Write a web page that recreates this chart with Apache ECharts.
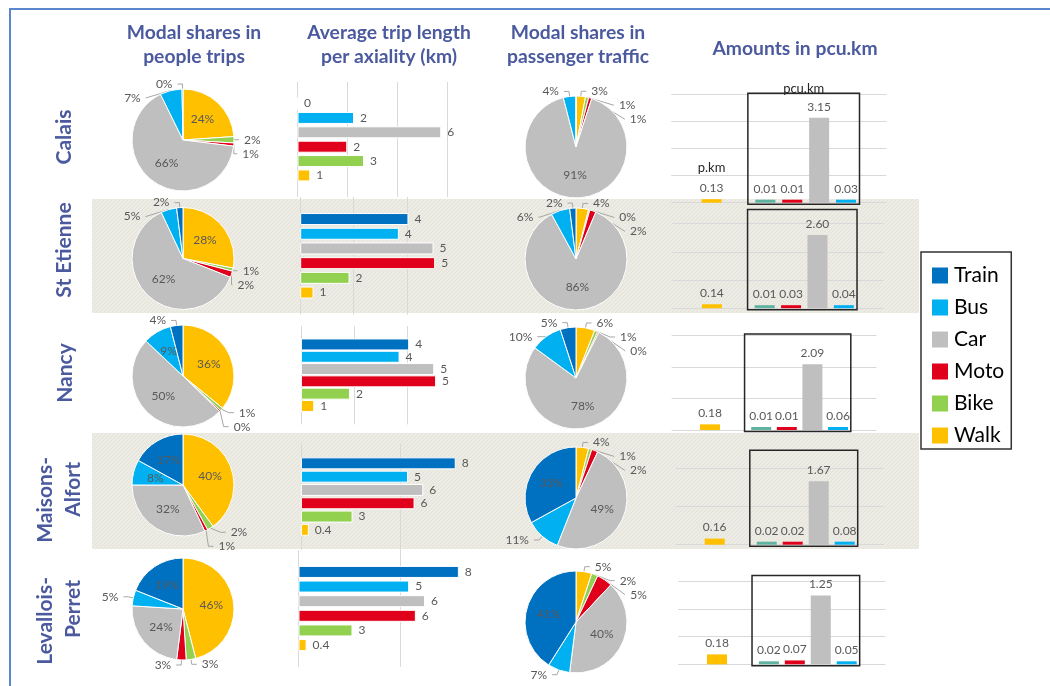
<!DOCTYPE html>
<html><head><meta charset="utf-8">
<script src="https://cdn.jsdelivr.net/npm/echarts@6/dist/echarts.min.js"></script>
<style>html,body{margin:0;padding:0;background:#fff}#c{width:1050px;height:686px}</style>
</head><body><div id="c"></div>
<script>
// ---------- DATA ----------
const modes = ['Train', 'Bus', 'Car', 'Moto', 'Bike', 'Walk'];
const modeColors = ['#0070c0', '#00b0f0', '#bfbfbf', '#e0001b', '#92d050', '#ffc000'];
const cities = ['Calais', 'St Etienne', 'Nancy', 'Maisons-\nAlfort', 'Levallois-\nPerret'];
const colTitles = ['Modal shares in\npeople trips', 'Average trip length\nper axiality (km)', 'Modal shares in\npassenger traffic', 'Amounts in pcu.km'];
const pieOrder = ['Walk', 'Bike', 'Moto', 'Car', 'Bus', 'Train'];
// Modal shares in people trips (%), pieOrder
const tripShares = [
  [24, 2, 1, 66, 7, 0.3],
  [28, 1, 2, 62, 5, 2],
  [36, 1, 0.4, 50, 9, 4],
  [40, 2, 1, 32, 8, 17],
  [46, 3, 3, 24, 5, 19]
];
// Modal shares in passenger traffic (%), pieOrder
const trafficShares = [
  [3, 1, 1, 91, 4, 0],
  [4, 0.4, 2, 86, 6, 2],
  [6, 1, 0.4, 78, 10, 5],
  [4, 1, 2, 49, 11, 33],
  [5, 2, 5, 40, 7, 41]
];
// Average trip length (km), modes order
const tripLength = [
  [0, 2.26, 5.75, 1.99, 2.66, 0.51],
  [4.06, 3.7, 5.0, 5.06, 1.85, 0.5],
  [4.06, 3.7, 5.0, 5.07, 1.84, 0.5],
  [7.82, 5.41, 6.18, 5.74, 2.61, 0.4],
  [7.9, 5.45, 6.23, 5.78, 2.66, 0.4]
];
// Amounts (p.km for Walk, pcu.km for the others)
const amountCats = ['a0', 'Walk', 'a2', 'Train', 'Moto', 'Car', 'Bus', 'a7'];
const amountColors = [null, '#ffc000', null, '#5fb3a0', '#e0001b', '#bfbfbf', '#00b0f0', null];
const amounts = [
  [null, 0.13, null, 0.01, 0.01, 3.15, 0.03, null],
  [null, 0.14, null, 0.01, 0.03, 2.60, 0.04, null],
  [null, 0.18, null, 0.01, 0.01, 2.09, 0.06, null],
  [null, 0.16, null, 0.02, 0.02, 1.67, 0.08, null],
  [null, 0.18, null, 0.02, 0.07, 1.25, 0.05, null]
];
const lenCats = ['l0', ...modes, 'l7'];

// ---------- LAYOUT ----------
const FONT = 'Lato';
const TITLE_COLOR = '#4b5a9e';
const LABEL_COLOR = '#595959';
const pie1X = 183, pie3X = 576, pieR = 51;
const pie1Y = [140, 258.5, 376, 485, 609];
const pie3Y = [147, 259, 378, 498, 622];
const lenLayout = [
  {left: 297.5, top: 82, height: 115, width: 150, max: 6, interval: 2, hideLast: false},
  {left: 300.2, top: 197, height: 117.6, width: 160, max: 6, interval: 2, hideLast: true},
  {left: 300.9, top: 326, height: 98.4, width: 160, max: 6, interval: 2, hideLast: true},
  {left: 300.9, top: 443.4, height: 106.4, width: 198, max: 10, interval: 5, hideLast: true},
  {left: 298.5, top: 550, height: 117, width: 203, max: 10, interval: 5, hideLast: true}
];
const amtLayout = [
  {left: 671.2, width: 215.2, top: 94.7, height: 108, max: 4, interval: 1, boxTop: 4.05},
  {left: 672.4, width: 211, top: 223.7, height: 84.5, max: 3, interval: 1, boxTop: 3.5},
  {left: 671.6, width: 204.8, top: 335.6, height: 94.4, max: 3, interval: 1, boxTop: 3.05},
  {left: 675.7, width: 208, top: 468.6, height: 76.1, max: 2, interval: 1, boxTop: 2.48},
  {left: 678.1, width: 207.5, top: 581.6, height: 82.7, max: 1.5, interval: 0.5, boxTop: 1.61}
];
// per line of each row label: [x, y, align]
const rowLabelLines = [
  [[64, 137, 'center']],
  [[64, 250, 'center']],
  [[65, 373, 'center']],
  [[45, 457, 'right'], [73.5, 462, 'right']],
  [[45, 577, 'right'], [73.5, 580, 'right']]
];
const shadedRows = [[199, 114], [433, 116]];

const colorOf = m => modeColors[modes.indexOf(m)];
const chart = echarts.init(document.getElementById('c'));

const grids = [], xAxes = [], yAxes = [], series = [];
const hidden = {show: false};

function pieSeries(vals, cx, cy, thr) {
  return {
    type: 'pie', center: [cx, cy], radius: pieR, startAngle: 90, clockwise: true,
    animation: false, avoidLabelOverlap: true, minShowLabelAngle: 0,
    emphasis: {disabled: true},
    itemStyle: {borderColor: '#fff', borderWidth: 1},
    label: {fontFamily: FONT, fontSize: 12, color: LABEL_COLOR, formatter: p => Math.round(p.value) + '%'},
    labelLine: {length: 5, length2: 5, lineStyle: {color: '#a6a6a6', width: 1}},
    data: pieOrder.map((m, j) => ({
      name: m, value: vals[j],
      itemStyle: {color: colorOf(m)},
      label: {show: vals[j] > 0, position: vals[j] >= thr ? 'inside' : 'outside'},
      labelLine: {show: vals[j] > 0 && vals[j] < thr}
    }))
  };
}

for (let i = 0; i < 5; i++) {
  series.push(pieSeries(tripShares[i], pie1X, pie1Y[i], 8));
  series.push(pieSeries(trafficShares[i], pie3X, pie3Y[i], 20));

  const L = lenLayout[i];
  grids.push({left: L.left, top: L.top, width: L.width, height: L.height});
  let gi = grids.length - 1;
  xAxes.push({type: 'value', gridIndex: gi, min: 0, max: L.max, interval: L.interval,
    axisLabel: hidden, axisLine: hidden, axisTick: hidden,
    splitLine: {show: true, showMaxLine: !L.hideLast, lineStyle: {color: '#d9d9d9', width: 1}}});
  yAxes.push({type: 'category', gridIndex: gi, data: lenCats, inverse: true,
    axisLabel: hidden, axisLine: hidden, axisTick: hidden, splitLine: hidden});
  series.push({
    type: 'bar', xAxisIndex: xAxes.length - 1, yAxisIndex: yAxes.length - 1,
    barWidth: 12, animation: false, emphasis: {disabled: true},
    itemStyle: {borderColor: '#fff', borderWidth: 1},
    label: {show: true, position: 'right', distance: 6, fontFamily: FONT, fontSize: 12, color: LABEL_COLOR,
      formatter: p => { const v = p.value; return v === 0 ? '0' : (v < 0.5 ? v.toFixed(1) : String(Math.round(v))); }},
    data: ['-', ...tripLength[i].map((v, j) => ({value: v, itemStyle: {color: modeColors[j]}})), '-']
  });

  const A = amtLayout[i];
  grids.push({left: A.left, top: A.top, width: A.width, height: A.height});
  gi = grids.length - 1;
  xAxes.push({type: 'category', gridIndex: gi, data: amountCats,
    axisLabel: hidden, axisLine: hidden, axisTick: hidden, splitLine: hidden});
  yAxes.push({type: 'value', gridIndex: gi, min: 0, max: A.max, interval: A.interval,
    axisLabel: hidden, axisLine: hidden, axisTick: hidden,
    splitLine: {show: true, lineStyle: {color: '#d9d9d9', width: 1}}});
  series.push({
    type: 'bar', xAxisIndex: xAxes.length - 1, yAxisIndex: yAxes.length - 1,
    barWidth: 20, barMinHeight: 3, animation: false, emphasis: {disabled: true},
    label: {show: true, position: 'top', distance: 5, fontFamily: FONT, fontSize: 12, color: LABEL_COLOR,
      formatter: p => Number(p.value).toFixed(2)},
    data: amounts[i].map((v, j) => v == null ? '-' : ({value: v, itemStyle: {color: amountColors[j]}}))
  });
}

chart.setOption({
  animation: false,
  textStyle: {fontFamily: FONT},
  grid: grids, xAxis: xAxes, yAxis: yAxes, series: series,
  legend: {
    data: modes, orient: 'vertical', left: 921, top: 252, icon: 'rect',
    itemWidth: 18, itemHeight: 18, itemGap: 11, padding: [13, 7, 3, 9],
    borderColor: '#333', borderWidth: 1.5, selectedMode: false,
    textStyle: {fontFamily: FONT, fontSize: 21, color: '#000'}
  }
});

// hatch pattern for shaded rows
const pc = document.createElement('canvas');
pc.width = 4; pc.height = 4;
const px = pc.getContext('2d');
px.fillStyle = '#ecebe4'; px.fillRect(0, 0, 4, 4);
px.strokeStyle = '#e4e2d9'; px.lineWidth = 1;
px.beginPath(); px.moveTo(0, 4); px.lineTo(4, 0); px.stroke();

// ---------- GRAPHICS ----------
const g = [];
g.push({type: 'rect', z: -20, silent: true, shape: {x: 10, y: 9, width: 1100, height: 720},
  style: {fill: null, stroke: '#5b87cf', lineWidth: 2}});
shadedRows.forEach(([y, h]) => g.push({type: 'rect', z: -30, silent: true,
  shape: {x: 92, y: y, width: 827, height: h}, style: {fill: {image: pc, repeat: 'repeat'}}}));
const titlePos = [[194, 45], [389, 45], [578, 45], [795, 49]];
colTitles.forEach((t, k) => g.push({type: 'text', silent: true, x: titlePos[k][0], y: titlePos[k][1],
  style: {text: t, fill: TITLE_COLOR, font: 'bold 19.3px ' + FONT, align: 'center', verticalAlign: 'middle', lineHeight: 24.5}}));
cities.forEach((c, i) => {
  c.split('\n').forEach((line, k) => {
    const [lx, ly, al] = rowLabelLines[i][k];
    g.push({type: 'text', silent: true, x: lx, y: ly, rotation: Math.PI / 2,
      style: {text: line, fill: TITLE_COLOR, font: 'bold 21px ' + FONT, align: al, verticalAlign: 'middle'}});
  });
});
for (let i = 0; i < 5; i++) {
  const xi = 2 * i + 1, yi = 2 * i + 1;
  const slot = amtLayout[i].width / amountCats.length;
  const xT = chart.convertToPixel({xAxisIndex: xi}, 'Train');
  const xB = chart.convertToPixel({xAxisIndex: xi}, 'Bus');
  const yTop = chart.convertToPixel({yAxisIndex: yi}, amtLayout[i].boxTop);
  const y0 = chart.convertToPixel({yAxisIndex: yi}, 0);
  const x1 = xT - 0.65 * slot, x2 = xB + 0.5 * slot;
  g.push({type: 'rect', silent: true, z: 10, shape: {x: x1, y: yTop, width: x2 - x1, height: y0 + 1.5 - yTop},
    style: {fill: null, stroke: '#262626', lineWidth: 1.5}});
  if (i === 0) {
    g.push({type: 'text', silent: true, z: 11, x: (x1 + x2) / 2, y: yTop - 5,
      style: {text: 'pcu.km', fill: '#262626', font: '13px ' + FONT, align: 'center', verticalAlign: 'middle'}});
    const xW = chart.convertToPixel({xAxisIndex: xi}, 'Walk');
    const yW = chart.convertToPixel({yAxisIndex: yi}, amounts[i][1]);
    g.push({type: 'text', silent: true, z: 11, x: xW, y: yW - 31,
      style: {text: 'p.km', fill: '#262626', font: '13px ' + FONT, align: 'center', verticalAlign: 'middle'}});
  }
}
chart.setOption({graphic: {elements: g}});
</script></body></html>
